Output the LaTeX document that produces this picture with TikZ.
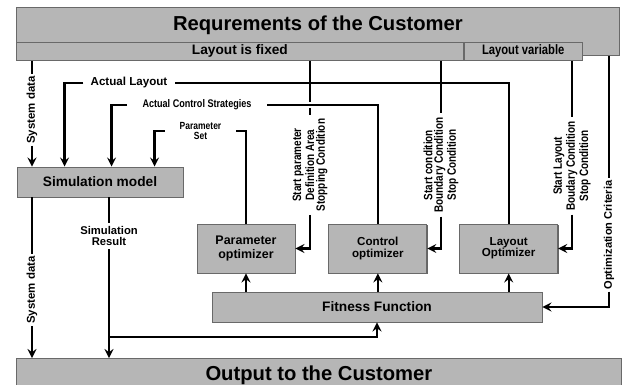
\documentclass[tikz,border=0pt]{standalone}
\usepackage{fontspec}
\setmainfont{Liberation Sans}
\newfontfamily\narrowfont[FakeStretch=0.82]{Liberation Sans}
\usetikzlibrary{arrows,positioning,calc,shadows}
\definecolor{boxgray}{RGB}{182,182,182}
\definecolor{boxedge}{RGB}{105,105,105}

\newcommand{\boldsize}[2]{\fontsize{#1}{#2}\selectfont\bfseries}

\begin{document}
\begin{tikzpicture}[x=0.02cm, y=-0.02cm,
    graybox/.style={rectangle, draw=boxedge, fill=boxgray, line width=0.5pt, inner sep=0pt},
    shadowbox/.style={graybox, align=center, general shadow={fill=black!60, shadow xshift=0.6pt, shadow yshift=-0.6pt}},
    optbox/.style={shadowbox, minimum width=1.96cm, minimum height=0.98cm},
    arrow/.style={->, >=stealth, line width=1.25pt},
    wire/.style={line width=1.25pt},
    flowtext/.style={fill=white, inner sep=1pt, align=center},
    sidetag/.style={flowtext, rotate=90, inner xsep=2pt, font=\narrowfont\boldsize{6.9}{6.0}}
]
\path[use as bounding box, fill=white] (0,0) rectangle (622,385);

% customer side: requirements on top, output at the bottom
\node[graybox, anchor=north west, minimum width=12.06cm, text height=0.46cm, text depth=0.5cm, font=\boldsize{11.5}{13}] (req) at (16,7) {Requrements of the Customer};
\node[graybox, anchor=north west, minimum width=8.94cm, minimum height=0.36cm, font=\boldsize{7.8}{9}] (fixed) at (16,42) {Layout is fixed};
\node[graybox, right=0pt of fixed, minimum width=2.36cm, minimum height=0.36cm, font=\narrowfont\boldsize{7.8}{9}] (variable) {Layout variable};
\node[graybox, anchor=north west, minimum width=12.1cm, minimum height=0.68cm, font=\boldsize{11.5}{13}] (out) at (16,358) {Output to the Customer};

% simulation and the three optimizers
\node[shadowbox, minimum width=3.32cm, minimum height=0.6cm, font=\boldsize{7.8}{9}] (sim) at (100,182) {Simulation model};
\node[optbox, font=\boldsize{7.1}{8}] (paramopt) at (246,248.5) {Parameter\\optimizer};
\node[optbox, right=0.66cm of paramopt, font=\boldsize{6.6}{6.5}] (ctrlopt) {Control\\optimizer};
\node[optbox, right=0.64cm of ctrlopt, font=\boldsize{6.6}{6.5}] (layopt) {Layout\\Optimizer};
\node[shadowbox, minimum width=6.6cm, minimum height=0.6cm, font=\boldsize{7.8}{9}] (fitness) at (377,307) {Fitness Function};

% labels sitting on the lines
\node[flowtext, rotate=90, font=\boldsize{6.5}{7}] (sysup) at (32,110) {System data};
\node[flowtext, rotate=90, font=\boldsize{6.5}{7}] (sysdown) at (32,290) {System data};
\node[flowtext, inner xsep=0.14cm, font=\boldsize{6.6}{7}] (actlay) at (129,83) {Actual Layout};
\node[flowtext, inner xsep=0.3cm, font=\narrowfont\boldsize{6.3}{7}] (actctrl) at (197,105) {Actual Control Strategies};
\node[flowtext, inner xsep=0.29cm, font=\narrowfont\boldsize{5.9}{6.2}] (paramset) at (200.5,131) {Parameter\\Set};
\node[flowtext, inner ysep=2pt, font=\boldsize{6.4}{6}] (simres) at (109,236) {Simulation\\Result};
\node[sidetag] (startpar) at (310,165) {Start parameter\\Definition Area\\Stopping Condition};
\node[sidetag] (startcond) at (441,165) {Start condition\\Boundary Condition\\Stop Condition};
\node[sidetag] (startlay) at (572,166) {Start Layout\\Boudary Condition\\Stop Condition};
\node[flowtext, rotate=90, font=\boldsize{6.3}{7}] (optcrit) at (609,235) {Optimization Criteria};
\coordinate (split) at (109,337);

% settings coming down from the requirements
\draw[wire] (fixed.south -| startpar) -- (startpar);
\draw[arrow] (startpar) |- (paramopt.east);
\draw[wire] (fixed.south -| startcond) -- (startcond);
\draw[arrow] (startcond) |- (ctrlopt.east);
\draw[wire] (variable.south -| startlay) -- (startlay);
\draw[arrow] (startlay) |- (layopt.east);
\draw[wire] (req.south -| optcrit) -- (optcrit);
\draw[arrow] (optcrit) |- (fitness.east);
\draw[arrow] (fixed.south -| sysup) -- (sysup) -- (sim.north -| sysup);

% optimizer results fed back into the simulation model
\draw[wire] (layopt.north) |- (actlay.east);
\draw[arrow] (actlay.west) -| ($(sim.north west)+(48,0)$);
\draw[wire, preaction={draw=white, line width=3pt}] (ctrlopt.north) |- (actctrl.east);
\draw[arrow] (actctrl.west) -| ($(sim.north west)+(95,0)$);
\draw[wire] (paramopt.north) |- (paramset.east);
\draw[arrow] (paramset.west) -| ($(sim.north west)+(138,0)$);

% simulation output
\draw[arrow] (sim.south -| sysdown) -- (sysdown) -- (out.north -| sysdown);
\draw[arrow] (sim.south -| simres) -- (simres) -- (out.north -| simres);
\draw[arrow] (split) -| (fitness.south);

% fitness into each optimizer
\draw[arrow] (fitness.north -| paramopt) -- (paramopt);
\draw[arrow] (fitness.north -| ctrlopt) -- (ctrlopt);
\draw[arrow] (fitness.north -| layopt) -- (layopt);

\end{tikzpicture}
\end{document}
